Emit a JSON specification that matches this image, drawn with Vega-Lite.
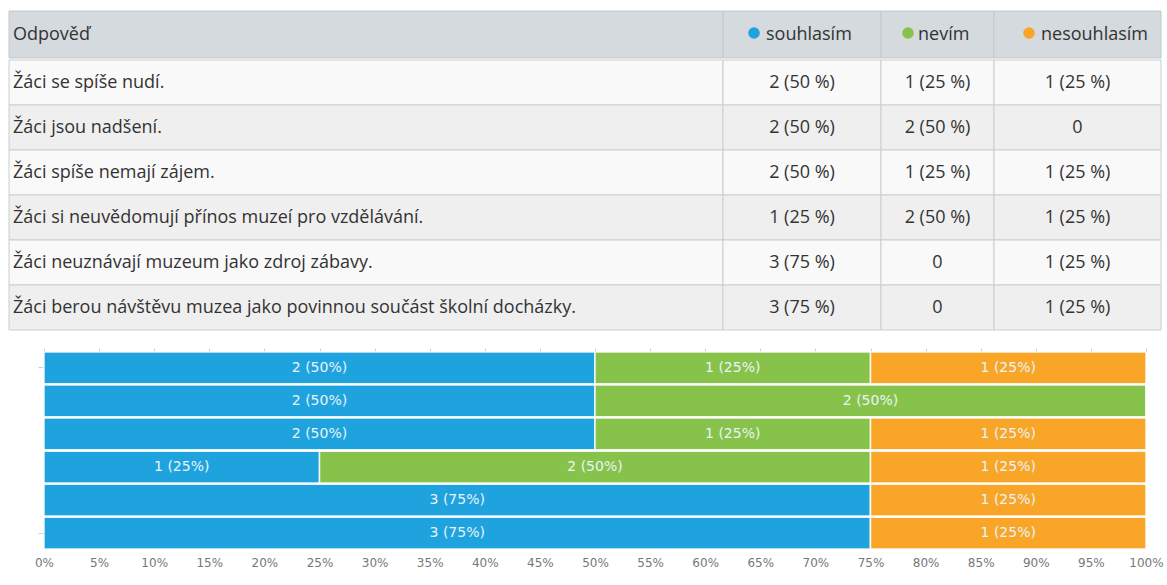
{
  "$schema": "https://vega.github.io/schema/vega-lite/v6.json",
  "padding": {"left": 8, "top": 10, "right": 0, "bottom": 0},
  "background": "white",
  "config": {"view": {"stroke": null}, "concat": {"spacing": 0}},
  "datasets": {
    "d": [
      {"i": 1, "q": "Žáci se spíše nudí.", "a": "souhlasím", "k": 0, "n": 2, "t": "2 (50 %)", "b": "2 (50%)"},
      {"i": 1, "q": "Žáci se spíše nudí.", "a": "nevím", "k": 1, "n": 1, "t": "1 (25 %)", "b": "1 (25%)"},
      {"i": 1, "q": "Žáci se spíše nudí.", "a": "nesouhlasím", "k": 2, "n": 1, "t": "1 (25 %)", "b": "1 (25%)"},
      {"i": 2, "q": "Žáci jsou nadšení.", "a": "souhlasím", "k": 0, "n": 2, "t": "2 (50 %)", "b": "2 (50%)"},
      {"i": 2, "q": "Žáci jsou nadšení.", "a": "nevím", "k": 1, "n": 2, "t": "2 (50 %)", "b": "2 (50%)"},
      {"i": 2, "q": "Žáci jsou nadšení.", "a": "nesouhlasím", "k": 2, "n": 0, "t": "0", "b": ""},
      {"i": 3, "q": "Žáci spíše nemají zájem.", "a": "souhlasím", "k": 0, "n": 2, "t": "2 (50 %)", "b": "2 (50%)"},
      {"i": 3, "q": "Žáci spíše nemají zájem.", "a": "nevím", "k": 1, "n": 1, "t": "1 (25 %)", "b": "1 (25%)"},
      {"i": 3, "q": "Žáci spíše nemají zájem.", "a": "nesouhlasím", "k": 2, "n": 1, "t": "1 (25 %)", "b": "1 (25%)"},
      {"i": 4, "q": "Žáci si neuvědomují přínos muzeí pro vzdělávání.", "a": "souhlasím", "k": 0, "n": 1, "t": "1 (25 %)", "b": "1 (25%)"},
      {"i": 4, "q": "Žáci si neuvědomují přínos muzeí pro vzdělávání.", "a": "nevím", "k": 1, "n": 2, "t": "2 (50 %)", "b": "2 (50%)"},
      {"i": 4, "q": "Žáci si neuvědomují přínos muzeí pro vzdělávání.", "a": "nesouhlasím", "k": 2, "n": 1, "t": "1 (25 %)", "b": "1 (25%)"},
      {"i": 5, "q": "Žáci neuznávají muzeum jako zdroj zábavy.", "a": "souhlasím", "k": 0, "n": 3, "t": "3 (75 %)", "b": "3 (75%)"},
      {"i": 5, "q": "Žáci neuznávají muzeum jako zdroj zábavy.", "a": "nevím", "k": 1, "n": 0, "t": "0", "b": ""},
      {"i": 5, "q": "Žáci neuznávají muzeum jako zdroj zábavy.", "a": "nesouhlasím", "k": 2, "n": 1, "t": "1 (25 %)", "b": "1 (25%)"},
      {"i": 6, "q": "Žáci berou návštěvu muzea jako povinnou součást školní docházky.", "a": "souhlasím", "k": 0, "n": 3, "t": "3 (75 %)", "b": "3 (75%)"},
      {"i": 6, "q": "Žáci berou návštěvu muzea jako povinnou součást školní docházky.", "a": "nevím", "k": 1, "n": 0, "t": "0", "b": ""},
      {"i": 6, "q": "Žáci berou návštěvu muzea jako povinnou součást školní docházky.", "a": "nesouhlasím", "k": 2, "n": 1, "t": "1 (25 %)", "b": "1 (25%)"}
    ]
  },
  "spacing": 16,
  "vconcat": [
    {
      "spacing": 0,
      "vconcat": [
        {
          "spacing": 0,
          "bounds": "flush",
          "hconcat": [
            {
              "width": 714, "height": 47,
              "data": {"name": "d"},
              "transform": [{"filter": "datum.i == 1 && datum.a == 'souhlasím'"}],
              "layer": [
                {"mark": {"type": "rect", "fill": "#d4dadd", "stroke": "#c3c9cc", "strokeWidth": 1},
                 "encoding": {"x": {"value": 0}, "x2": {"value": "width"}, "y": {"value": 0}, "y2": {"value": "height"}}},
                {"mark": {"type": "text", "align": "left", "baseline": "middle", "font": "Open Sans", "fontSize": 18, "color": "#333333", "text": "Odpověď"},
                 "encoding": {"x": {"value": 4}, "y": {"value": 23.5}}}
              ]
            },
            {
              "width": 158, "height": 47,
              "data": {"name": "d"},
              "transform": [{"filter": "datum.i == 1 && datum.a == 'souhlasím'"}],
              "layer": [
                {"mark": {"type": "rect", "fill": "#d4dadd", "stroke": "#c3c9cc", "strokeWidth": 1},
                 "encoding": {"x": {"value": 0}, "x2": {"value": "width"}, "y": {"value": 0}, "y2": {"value": "height"}}},
                {"mark": {"type": "point", "shape": "circle", "filled": true, "size": 135, "color": "#1fa3de", "opacity": 1},
                 "encoding": {"x": {"value": 31}, "y": {"value": 22}}},
                {"mark": {"type": "text", "align": "left", "baseline": "middle", "font": "Open Sans", "fontSize": 18, "color": "#333333"},
                 "encoding": {"x": {"value": 43}, "y": {"value": 23.5}, "text": {"field": "a"}}}
              ]
            },
            {
              "width": 113, "height": 47,
              "data": {"name": "d"},
              "transform": [{"filter": "datum.i == 1 && datum.a == 'nevím'"}],
              "layer": [
                {"mark": {"type": "rect", "fill": "#d4dadd", "stroke": "#c3c9cc", "strokeWidth": 1},
                 "encoding": {"x": {"value": 0}, "x2": {"value": "width"}, "y": {"value": 0}, "y2": {"value": "height"}}},
                {"mark": {"type": "point", "shape": "circle", "filled": true, "size": 135, "color": "#87c34a", "opacity": 1},
                 "encoding": {"x": {"value": 27}, "y": {"value": 22}}},
                {"mark": {"type": "text", "align": "left", "baseline": "middle", "font": "Open Sans", "fontSize": 18, "color": "#333333"},
                 "encoding": {"x": {"value": 37}, "y": {"value": 23.5}, "text": {"field": "a"}}}
              ]
            },
            {
              "width": 167, "height": 47,
              "data": {"name": "d"},
              "transform": [{"filter": "datum.i == 1 && datum.a == 'nesouhlasím'"}],
              "layer": [
                {"mark": {"type": "rect", "fill": "#d4dadd", "stroke": "#c3c9cc", "strokeWidth": 1},
                 "encoding": {"x": {"value": 0}, "x2": {"value": "width"}, "y": {"value": 0}, "y2": {"value": "height"}}},
                {"mark": {"type": "point", "shape": "circle", "filled": true, "size": 135, "color": "#f9a628", "opacity": 1},
                 "encoding": {"x": {"value": 35}, "y": {"value": 22}}},
                {"mark": {"type": "text", "align": "left", "baseline": "middle", "font": "Open Sans", "fontSize": 18, "color": "#333333"},
                 "encoding": {"x": {"value": 47}, "y": {"value": 23.5}, "text": {"field": "a"}}}
              ]
            }
          ]
        },
        {
          "spacing": 0,
          "bounds": "flush",
          "hconcat": [
            {
              "width": 714, "height": 270,
              "data": {"name": "d"},
              "transform": [{"filter": "datum.a == 'souhlasím'"}],
              "encoding": {"y": {"field": "q", "type": "nominal", "sort": {"field": "i"}, "axis": null, "scale": {"paddingInner": 0, "paddingOuter": 0}}},
              "layer": [
                {"mark": {"type": "rect", "stroke": "#c9ced1", "strokeWidth": 1},
                 "encoding": {"x": {"value": 0}, "x2": {"value": "width"},
                   "fill": {"condition": {"test": "datum.i % 2 == 1", "value": "#f9f9f9"}, "value": "#efefef"}}},
                {"mark": {"type": "text", "align": "left", "baseline": "middle", "font": "Open Sans", "fontSize": 18, "color": "#333333"},
                 "encoding": {"x": {"value": 4}, "text": {"field": "q"}}}
              ]
            },
            {
              "width": 158, "height": 270,
              "data": {"name": "d"},
              "transform": [{"filter": "datum.a == 'souhlasím'"}],
              "encoding": {"y": {"field": "q", "type": "nominal", "sort": {"field": "i"}, "axis": null, "scale": {"paddingInner": 0, "paddingOuter": 0}}},
              "layer": [
                {"mark": {"type": "rect", "stroke": "#c9ced1", "strokeWidth": 1},
                 "encoding": {"x": {"value": 0}, "x2": {"value": "width"},
                   "fill": {"condition": {"test": "datum.i % 2 == 1", "value": "#f9f9f9"}, "value": "#efefef"}}},
                {"mark": {"type": "text", "align": "center", "baseline": "middle", "font": "Open Sans", "fontSize": 18, "color": "#333333"},
                 "encoding": {"x": {"value": 79}, "text": {"field": "t"}}}
              ]
            },
            {
              "width": 113, "height": 270,
              "data": {"name": "d"},
              "transform": [{"filter": "datum.a == 'nevím'"}],
              "encoding": {"y": {"field": "q", "type": "nominal", "sort": {"field": "i"}, "axis": null, "scale": {"paddingInner": 0, "paddingOuter": 0}}},
              "layer": [
                {"mark": {"type": "rect", "stroke": "#c9ced1", "strokeWidth": 1},
                 "encoding": {"x": {"value": 0}, "x2": {"value": "width"},
                   "fill": {"condition": {"test": "datum.i % 2 == 1", "value": "#f9f9f9"}, "value": "#efefef"}}},
                {"mark": {"type": "text", "align": "center", "baseline": "middle", "font": "Open Sans", "fontSize": 18, "color": "#333333"},
                 "encoding": {"x": {"value": 56.5}, "text": {"field": "t"}}}
              ]
            },
            {
              "width": 167, "height": 270,
              "data": {"name": "d"},
              "transform": [{"filter": "datum.a == 'nesouhlasím'"}],
              "encoding": {"y": {"field": "q", "type": "nominal", "sort": {"field": "i"}, "axis": null, "scale": {"paddingInner": 0, "paddingOuter": 0}}},
              "layer": [
                {"mark": {"type": "rect", "stroke": "#c9ced1", "strokeWidth": 1},
                 "encoding": {"x": {"value": 0}, "x2": {"value": "width"},
                   "fill": {"condition": {"test": "datum.i % 2 == 1", "value": "#f9f9f9"}, "value": "#efefef"}}},
                {"mark": {"type": "text", "align": "center", "baseline": "middle", "font": "Open Sans", "fontSize": 18, "color": "#333333"},
                 "encoding": {"x": {"value": 83.5}, "text": {"field": "t"}}}
              ]
            }
          ]
        }
      ]
    },
    {
      "width": 1137, "height": 197,
      "data": {"name": "d"},
      "encoding": {
        "y": {"field": "q", "type": "nominal", "sort": {"field": "i"},
              "scale": {"paddingInner": 0.04, "paddingOuter": 0},
              "axis": {"title": null, "labels": false, "domain": false, "ticks": true, "tickSize": 6, "tickColor": "#d0d0d0", "offset": -35,
                       "values": ["Žáci se spíše nudí.", "Žáci berou návštěvu muzea jako povinnou součást školní docházky."]}}
      },
      "layer": [
        {
          "mark": {"type": "bar", "stroke": "#ffffff", "strokeWidth": 1.5, "strokeOpacity": 0.85},
          "encoding": {
            "x": {"field": "n", "type": "quantitative", "stack": "normalize", "scale": {"domain": [0, 1], "range": [35, 1137]},
                  "axis": {"orient": "bottom", "title": null, "format": "%", "values": [0, 0.05, 0.1, 0.15, 0.2, 0.25, 0.3, 0.35, 0.4, 0.45, 0.5, 0.55, 0.6, 0.65, 0.7, 0.75, 0.8, 0.85, 0.9, 0.95, 1],
                           "grid": false, "domain": false, "ticks": false, "labelFlush": false, "labelFont": "DejaVu Sans", "labelFontSize": 12, "labelColor": "#777777", "labelPadding": 8}},
            "color": {"field": "a", "type": "nominal", "scale": {"domain": ["souhlasím", "nevím", "nesouhlasím"], "range": ["#1fa3de", "#87c34a", "#f9a628"]}, "legend": null},
            "order": {"field": "k", "type": "quantitative"}
          }
        },
        {
          "mark": {"type": "text", "font": "DejaVu Sans", "fontSize": 14, "color": "#eaf4f8", "baseline": "middle"},
          "encoding": {
            "x": {"field": "n", "type": "quantitative", "stack": "normalize", "bandPosition": 0.5,
                  "axis": {"orient": "top", "title": null, "labels": false, "domain": false, "grid": false, "ticks": true, "tickSize": 4, "tickColor": "#d0d0d0",
                           "values": [0, 0.05, 0.1, 0.15, 0.2, 0.25, 0.3, 0.35, 0.4, 0.45, 0.5, 0.55, 0.6, 0.65, 0.7, 0.75, 0.8, 0.85, 0.9, 0.95, 1]}},
            "text": {"field": "b"},
            "order": {"field": "k", "type": "quantitative"}
          }
        }
      ]
    }
  ]
}
